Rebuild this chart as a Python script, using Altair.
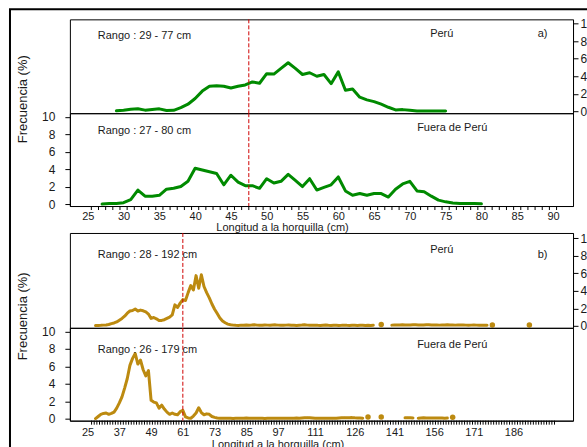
import altair as alt
import pandas as pd

# ---------------- data ----------------
# Panel a) : longitud (cm) / frecuencia (%)
xa_peru = list(range(29, 76))
ya_peru = [0.05, 0.12, 0.22, 0.27, 0.12, 0.2, 0.27, 0.08, 0.1, 0.4,
           0.8, 1.45, 2.3, 2.85, 2.9, 2.85, 2.65, 2.85, 3.0, 3.35,
           3.2, 4.3, 4.25, 4.9, 5.55, 4.9, 4.2, 4.4, 4.0, 4.2,
           3.15, 4.5, 2.4, 2.55, 1.6, 1.3, 1.1, 0.8, 0.45, 0.15,
           0.18, 0.1, 0.03, 0.03, 0.02, 0.02, 0.01]
xa_fuera = list(range(27, 81))
ya_fuera = [0.0, 0.05, 0.05, 0.15, 0.5, 1.6, 0.9, 0.9, 1.0, 1.7,
            1.8, 2.0, 2.6, 4.1, 3.9, 3.7, 3.5, 2.2, 3.3, 2.5,
            2.1, 2.1, 1.8, 2.9, 2.4, 2.6, 3.4, 2.7, 2.0, 2.9,
            1.6, 1.9, 2.2, 3.1, 1.5, 1.0, 1.2, 1.0, 1.2, 1.2,
            0.8, 1.7, 2.3, 2.6, 1.5, 1.4, 0.9, 0.45, 0.25, 0.12,
            0.05, 0.05, 0.05, 0.02]

# Panel b)
xb_peru = list(range(28, 134)) + [136] + list(range(140, 177)) + [178, 192]
yb_peru = [0.03, 0.05, 0.06, 0.08, 0.1, 0.15, 0.25, 0.33, 0.45, 0.65,
           0.85, 1.1, 1.45, 1.7, 1.75, 1.92, 1.7, 1.8, 1.72, 1.6,
           1.35, 0.85, 0.95, 0.8, 0.6, 0.62, 0.7, 0.85, 1.0, 1.25,
           2.4, 2.1, 2.6, 3.0, 2.9, 3.8, 4.6, 4.1, 5.75, 4.3,
           5.85, 4.5, 3.8, 3.2, 2.5, 1.9, 1.4, 0.9, 0.55, 0.35,
           0.2, 0.12, 0.08,
           0.06, 0.05, 0.08, 0.06, 0.1, 0.07, 0.09, 0.12, 0.08, 0.06,
           0.07, 0.1, 0.08, 0.06, 0.09, 0.11, 0.08, 0.07, 0.06, 0.08,
           0.1, 0.07, 0.06, 0.05, 0.07, 0.09, 0.12, 0.08, 0.06, 0.07,
           0.08, 0.06, 0.05, 0.07, 0.09, 0.06, 0.05, 0.07, 0.06, 0.05,
           0.06, 0.08, 0.06, 0.05, 0.07, 0.06, 0.05, 0.06, 0.07, 0.05,
           0.06, 0.05, 0.06,
           0.15,
           0.08, 0.1, 0.09, 0.1, 0.11, 0.1, 0.09, 0.1, 0.12, 0.11,
           0.1, 0.09, 0.1, 0.11, 0.12, 0.1, 0.09, 0.1, 0.08, 0.09,
           0.1, 0.11, 0.1, 0.09, 0.08, 0.09, 0.1, 0.09, 0.08, 0.07,
           0.08, 0.09, 0.08, 0.07, 0.06, 0.07, 0.06,
           0.1, 0.1]
xb_fuera = (list(range(28, 130)) + [131, 136] + list(range(145, 149))
            + list(range(150, 162)) + [163])
yb_fuera = [0.0, 0.25, 0.5, 0.6, 0.65, 0.5, 0.6, 0.75, 1.2, 1.8,
            2.5, 3.5, 4.6, 6.1, 6.9, 7.45, 6.25, 6.7, 5.6, 4.9,
            5.5, 2.1, 1.9, 1.8, 1.2, 1.55, 1.1, 0.75, 0.5, 0.65,
            0.5, 0.45, 0.8, 0.95, 0.2, 0.08, 0.05, 0.3, 0.65, 1.25,
            0.7, 0.45, 0.55, 0.5, 0.25, 0.15, 0.08, 0.05, 0.05, 0.04,
            0.04, 0.05, 0.03, 0.05, 0.06, 0.04, 0.05, 0.07, 0.05, 0.04,
            0.05, 0.06, 0.04, 0.05, 0.03, 0.05, 0.06, 0.04, 0.05, 0.04,
            0.05, 0.04, 0.06, 0.05, 0.04, 0.05, 0.07, 0.06, 0.08, 0.1,
            0.12, 0.1, 0.08, 0.06, 0.05, 0.06, 0.05, 0.04, 0.06, 0.05,
            0.04, 0.06, 0.08, 0.1, 0.12, 0.1, 0.11, 0.12, 0.1, 0.09,
            0.08, 0.06,
            0.2, 0.2,
            0.1, 0.12, 0.1, 0.08,
            0.06, 0.08, 0.1, 0.09, 0.08, 0.07, 0.08, 0.09, 0.08, 0.07, 0.06, 0.07,
            0.15]

corte_a = [47.5]
corte_b = [61]
etiquetas_xa = [25, 30, 35, 40, 45, 50, 55, 60, 65, 70, 75, 80, 85, 90]
etiquetas_xb = [25, 37, 49, 61, 73, 85, 97, 111, 126, 141, 156, 171, 186]
categorias_a = list(range(25, 91))
categorias_b = list(range(26, 202))
etiquetas_y = [0, 2, 4, 6, 8, 10]
rangos = ["Rango : 29 - 77 cm", "Rango : 27 - 80 cm",
          "Rango : 28 - 192 cm", "Rango : 26 - 179 cm"]
zonas = ["Perú", "Fuera de Perú", "Perú", "Fuera de Perú"]
letras = ["a)", "b)"]
titulo_x = "Longitud a la horquilla (cm)"
titulo_y = "Frecuencia (%)"

assert len(xa_peru) == len(ya_peru)
assert len(xa_fuera) == len(ya_fuera)
assert len(xb_peru) == len(yb_peru), (len(xb_peru), len(yb_peru))
assert len(xb_fuera) == len(yb_fuera), (len(xb_fuera), len(yb_fuera))

# ---------------- style ----------------
FONT = "Liberation Sans"
VERDE = "#008a00"
ORO = "#BC8A10"
ROJO = "#D00000"
TXT = "#1a1a1a"
W = 504
PXU = 8.75


def serie(xs, ys):
    seg, segs = 0, []
    for i, x in enumerate(xs):
        if i > 0 and x - xs[i - 1] > 1:
            seg += 1
        segs.append(seg)
    df = pd.DataFrame({"x": xs, "y": ys, "seg": segs})
    df["solo"] = df.groupby("seg")["x"].transform("count") == 1
    return df


def panel(xs, ys, color, xscale, h, yaxis, xaxis, corte, textos,
          categorias=None, extra=None):
    yscale = alt.Scale(domain=[-2 / PXU, (h - 2) / PXU], nice=False, zero=False)
    df = serie(xs, ys)
    layers = []
    line = alt.Chart(df).mark_line(
        color=color, strokeWidth=3, strokeCap="round", strokeJoin="round").encode(
        x=alt.X("x:Q", scale=xscale, axis=xaxis),
        y=alt.Y("y:Q", scale=yscale, axis=yaxis),
        detail="seg:N")
    layers.append(line)
    solos = df[df["solo"]]
    if len(solos):
        dots = alt.Chart(solos).mark_circle(color=color, size=30, opacity=1).encode(
            x=alt.X("x:Q", scale=xscale, axis=xaxis),
            y=alt.Y("y:Q", scale=yscale, axis=yaxis))
        layers.append(dots)
    rule = alt.Chart(pd.DataFrame({"x": corte})).mark_rule(
        color=ROJO, strokeWidth=1, strokeDash=[4, 2]).encode(
        x=alt.X("x:Q", scale=xscale, axis=xaxis),
        y=alt.value(0), y2=alt.value(h))
    layers.append(rule)
    if categorias is not None:
        tk = alt.Chart(pd.DataFrame({"x": [c + 0.5 for c in categorias]})).mark_rule(
            color="black", strokeWidth=1).encode(
            x=alt.X("x:Q", scale=xscale, axis=xaxis),
            y=alt.value(h), y2=alt.value(h + 4))
        layers.append(tk)
    for (t, px, py, align) in textos:
        layers.append(
            alt.Chart(pd.DataFrame({"t": [t]})).mark_text(
                font=FONT, fontSize=11, color=TXT, align=align,
                baseline="alphabetic").encode(
                x=alt.value(px), y=alt.value(py), text="t:N"))
    if extra is not None:
        layers.append(extra)
    return alt.layer(*layers).properties(width=W, height=h)


xa_scale = alt.Scale(domain=[22.5, 92.8], nice=False, zero=False)
xb_scale = alt.Scale(domain=[18.3, 208.5], nice=False, zero=False)

eje_der = alt.Axis(orient="right", values=etiquetas_y, tickSize=5, labelPadding=2,
                   labelFontSize=12, title=None, format="d")


def eje_izq(ty):
    return alt.Axis(orient="left", values=etiquetas_y, tickSize=5, labelPadding=10,
                    labelFontSize=12, format="d", title=titulo_y, titleFontSize=13,
                    titleFontWeight="normal", titleAngle=270, titleAlign="center",
                    titleBaseline="middle", titleX=-47, titleY=ty)


def eje_x(vals, pad, tx, ty):
    return alt.Axis(values=vals, ticks=False, labelPadding=pad, labelFontSize=11,
                    labelFlush=False, labelOverlap=False, format="d",
                    title=titulo_x, titleFontSize=11, titleFontWeight="normal",
                    titleX=tx, titleY=ty, titleAlign="center",
                    titleBaseline="alphabetic")


marco = alt.Chart(pd.DataFrame({"k": [0]})).mark_rect(
    fillOpacity=0, stroke="black", strokeWidth=2).encode(
    x=alt.value(-60), x2=alt.value(530), y=alt.value(-10), y2=alt.value(440))

a_up = panel(xa_peru, ya_peru, VERDE, xa_scale, 94, eje_der, None, corte_a,
             [(rangos[0], 28, 20, "left"), (zonas[0], 372.5, 18, "center"),
              (letras[0], 473.5, 17.5, "center")], extra=marco)
a_lo = panel(xa_fuera, ya_fuera, VERDE, xa_scale, 93, eje_izq(-14.5),
             eje_x(etiquetas_xa, 4, 212.5, 25), corte_a,
             [(rangos[1], 28, 20.5, "left"), (zonas[1], 383, 18, "center")],
             categorias=categorias_a)
espacio = alt.Chart(pd.DataFrame({"k": [0]})).mark_point(opacity=0).encode(
    x=alt.value(0), y=alt.value(0)).properties(
    width=W, height=27, view=alt.ViewBackground(stroke="transparent"))
b_up = panel(xb_peru, yb_peru, ORO, xb_scale, 95, eje_der, None, corte_b,
             [(rangos[2], 28, 25.5, "left"), (zonas[2], 372.5, 20.5, "center"),
              (letras[1], 473.5, 25, "center")])
b_lo = panel(xb_fuera, yb_fuera, ORO, xb_scale, 93, eje_izq(-12),
             eje_x(etiquetas_xb, 6, 208, 27), corte_b,
             [(rangos[3], 28, 25, "left"), (zonas[3], 383, 20, "center")],
             categorias=categorias_b)

chart = alt.vconcat(a_up, a_lo, espacio, b_up, b_lo, spacing=0, bounds="flush").properties(
    padding={"left": 8, "top": 7, "right": -14, "bottom": -13},
    background="white",
).configure(font=FONT).configure_view(
    stroke="black", strokeWidth=1
).configure_axis(
    domainColor="black", tickColor="black", labelColor=TXT, titleColor=TXT,
    grid=False, labelFont=FONT, titleFont=FONT
)

chart.save("out.html", embed_options={"renderer": "svg", "actions": False})
